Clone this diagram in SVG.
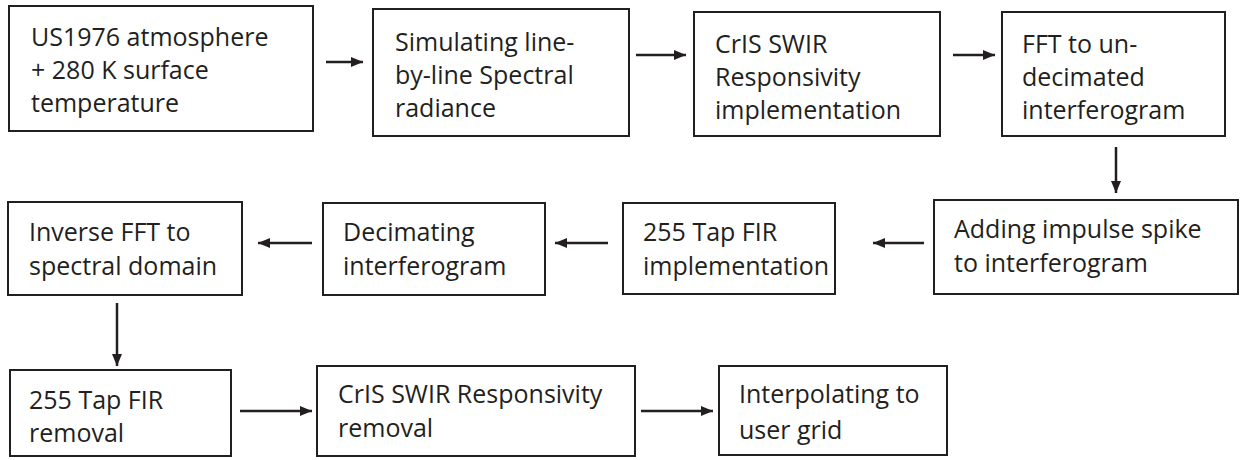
<svg xmlns="http://www.w3.org/2000/svg" width="1240" height="460" viewBox="0 0 1240 460">
<defs>
<marker id="ah" viewBox="0 0 12 10" refX="12" refY="5" markerWidth="12" markerHeight="10" markerUnits="userSpaceOnUse" orient="auto">
<path d="M0,0 L12,5 L0,10 z" fill="#231f20"/>
</marker>
<style>
.box{fill:#fff;stroke:#231f20;stroke-width:2}
.t{font-family:"Open Sans","Liberation Sans",sans-serif;font-size:25px;fill:#231f20}
.c{stroke:#231f20;stroke-width:2.5;fill:none;marker-end:url(#ah)}
</style>
</defs>
<rect width="1240" height="460" fill="#fff"/>
<g id="n1"><rect class="box" x="9" y="6" width="304" height="125"/>
<text class="t" x="31" y="46">US1976 atmosphere</text><text class="t" x="31" y="79">+ 280 K surface</text><text class="t" x="31" y="112">temperature</text></g>
<g id="n2"><rect class="box" x="373" y="9" width="256" height="127"/>
<text class="t" x="395" y="51">Simulating line-</text><text class="t" x="395" y="84">by-line Spectral</text><text class="t" x="395" y="117">radiance</text></g>
<g id="n3"><rect class="box" x="694" y="12" width="246" height="124"/>
<text class="t" x="715" y="53">CrIS SWIR</text><text class="t" x="715" y="86">Responsivity</text><text class="t" x="715" y="119">implementation</text></g>
<g id="n4"><rect class="box" x="1002" y="12" width="223" height="124"/>
<text class="t" x="1022" y="53">FFT to un-</text><text class="t" x="1022" y="86">decimated</text><text class="t" x="1022" y="119">interferogram</text></g>
<g id="n5"><rect class="box" x="934" y="200" width="304" height="94"/>
<text class="t" x="954" y="238">Adding impulse spike</text><text class="t" x="954" y="272">to interferogram</text></g>
<g id="n6"><rect class="box" x="623" y="203" width="212" height="91"/>
<text class="t" x="643" y="241">255 Tap FIR</text><text class="t" x="643" y="275">implementation</text></g>
<g id="n7"><rect class="box" x="323" y="203" width="222" height="92"/>
<text class="t" x="343" y="241">Decimating</text><text class="t" x="343" y="275">interferogram</text></g>
<g id="n8"><rect class="box" x="8" y="202" width="234" height="93"/>
<text class="t" x="29" y="241">Inverse FFT to</text><text class="t" x="29" y="275">spectral domain</text></g>
<g id="n9"><rect class="box" x="10" y="370" width="221" height="86"/>
<text class="t" x="29" y="409">255 Tap FIR</text><text class="t" x="29" y="442">removal</text></g>
<g id="n10"><rect class="box" x="317" y="366" width="318" height="90"/>
<text class="t" x="338" y="403">CrIS SWIR Responsivity</text><text class="t" x="338" y="437">removal</text></g>
<g id="n11"><rect class="box" x="719" y="366" width="228" height="89"/>
<text class="t" x="739" y="403">Interpolating to</text><text class="t" x="739" y="439">user grid</text></g>
<g id="connectors">
<line class="c" x1="326" y1="62" x2="363" y2="62"/>
<line class="c" x1="636" y1="55" x2="686" y2="55"/>
<line class="c" x1="953" y1="55" x2="995" y2="55"/>
<line class="c" x1="1116" y1="147" x2="1116" y2="193"/>
<line class="c" x1="924" y1="243" x2="873" y2="243"/>
<line class="c" x1="608" y1="243" x2="555" y2="243"/>
<line class="c" x1="312" y1="243" x2="258" y2="243"/>
<line class="c" x1="117" y1="303" x2="117" y2="366"/>
<line class="c" x1="240" y1="411" x2="312" y2="411"/>
<line class="c" x1="641" y1="411" x2="713" y2="411"/>
</g>
</svg>
